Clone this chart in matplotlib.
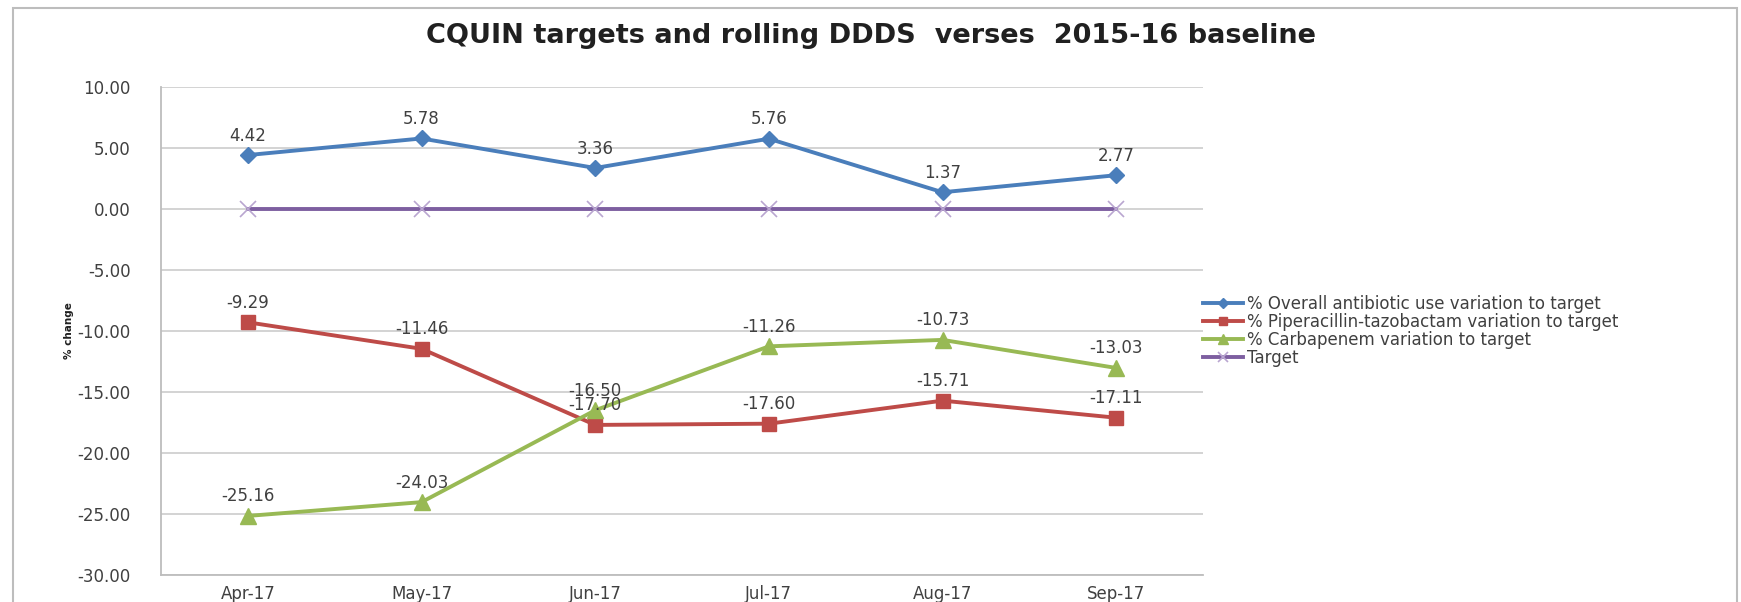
import matplotlib.pyplot as plt
from matplotlib.patches import Rectangle

months = ['Apr-17', 'May-17', 'Jun-17', 'Jul-17', 'Aug-17', 'Sep-17']
overall = [4.42, 5.78, 3.36, 5.76, 1.37, 2.77]
piptaz = [-9.29, -11.46, -17.70, -17.60, -15.71, -17.11]
carbapenem = [-25.16, -24.03, -16.50, -11.26, -10.73, -13.03]
target = [0, 0, 0, 0, 0, 0]

names = ['% Overall antibiotic use variation to target',
         '% Piperacillin-tazobactam variation to target',
         '% Carbapenem variation to target',
         'Target']

txt = '#404040'
grid_col = '#D0D0D0'

fig = plt.figure(figsize=(17.41, 6.02), dpi=100)
ax = fig.add_axes([0.0925, 0.0449, 0.5985, 0.8106])

# chart area border
fig.patches.append(Rectangle((13 / 1741, -0.05), (1737 - 13) / 1741, 1.05 - 8 / 602,
                             transform=fig.transFigure, fill=False,
                             edgecolor='#BDBDBD', lw=1.5))

x = list(range(len(months)))
ax.plot(x, overall, color='#4A7EBB', lw=2.8, marker='D', ms=8, label=names[0], zorder=4)
ax.plot(x, piptaz, color='#BE4B48', lw=2.8, marker='s', ms=10, label=names[1], zorder=4)
ax.plot(x, carbapenem, color='#98B954', lw=2.8, marker='^', ms=11, label=names[2], zorder=5)
ax.plot(x, target, color='#7D5FA0', lw=2.8, marker='x', ms=11, mew=1.2,
        mec='#B9A6D0', label=names[3], zorder=3)

for series in (overall, piptaz, carbapenem):
    for i, v in enumerate(series):
        ax.annotate('%.2f' % v, (i, v), xytext=(0, 14), textcoords='offset points',
                    ha='center', va='center', fontsize=12, color=txt, zorder=6)

ax.set_xlim(-0.5, len(months) - 0.5)
ax.set_ylim(-30, 10)
ax.set_yticks(range(-30, 11, 5))
ax.set_yticklabels(['%.2f' % t for t in range(-30, 11, 5)])
ax.set_xticks(x)
ax.set_xticklabels(months)
ax.tick_params(axis='both', length=0, labelsize=12, labelcolor=txt)
ax.tick_params(axis='y', pad=22)
ax.tick_params(axis='x', pad=7)

ax.grid(axis='y', color=grid_col, lw=1.3)
ax.set_axisbelow(True)
for s in ('top', 'right'):
    ax.spines[s].set_visible(False)
for s in ('left', 'bottom'):
    ax.spines[s].set_color('#BDBDBD')
    ax.spines[s].set_linewidth(1.3)

ax.set_ylabel('% change', fontsize=7.5, fontweight='bold', color='#202020', labelpad=2)

fig.text(0.5, 0.941, 'CQUIN targets and rolling DDDS  verses  2015-16 baseline',
         ha='center', va='center', fontsize=19.5, fontweight='bold', color='#202020')

leg = ax.legend(loc='upper left', bbox_to_anchor=(1203 / 1741, 1 - 295 / 602),
                bbox_transform=fig.transFigure, frameon=False, fontsize=12,
                handlelength=2.4, handletextpad=0.25, labelspacing=0.0,
                borderaxespad=0, borderpad=0, markerscale=0.6)
for t in leg.get_texts():
    t.set_color(txt)

fig.savefig('out.png', dpi=100, facecolor='white')
